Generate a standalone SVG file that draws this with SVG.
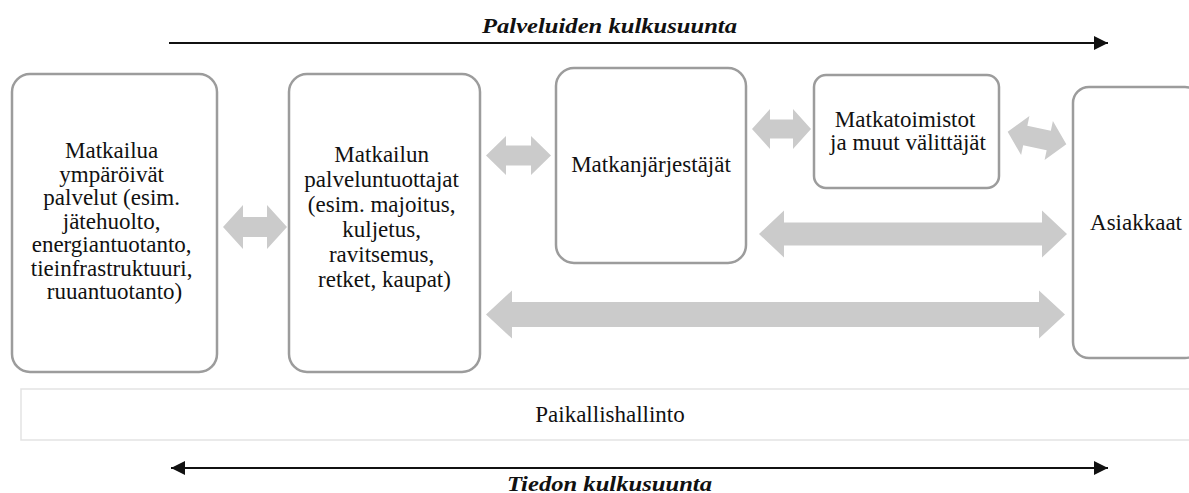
<svg xmlns="http://www.w3.org/2000/svg" width="1189" height="493" viewBox="0 0 1189 493">
<style>
.box{fill:#fff;stroke:#9c9c9c;stroke-width:2.5}
.gov{fill:#fff;stroke:#e3e3e3;stroke-width:1.5}
.t{font-size:23px;fill:#111;text-anchor:middle}
.h{font-size:20.5px;font-weight:bold;font-style:italic;fill:#111;text-anchor:middle}
.ga{fill:#cbcbcb}
.bl{stroke:#111;stroke-width:2;fill:none}
</style>
<defs>
<marker id="ah" viewBox="0 0 10 10" refX="10" refY="5" markerWidth="7" markerHeight="7" orient="auto-start-reverse" markerUnits="strokeWidth">
<path d="M0 0 L10 5 L0 10 Z" fill="#111"/>
</marker>
</defs>
<rect width="1189" height="493" fill="#fff"/>
<g id="flow-top">
<text class="h" font-family="Liberation Serif" x="609.5" y="33" textLength="255" lengthAdjust="spacingAndGlyphs">Palveluiden kulkusuunta</text>
<line class="bl" x1="169" y1="43" x2="1108" y2="43" marker-end="url(#ah)"/>
</g>
<g id="flow-bottom">
<line class="bl" x1="171" y1="468" x2="1108" y2="468" marker-start="url(#ah)" marker-end="url(#ah)"/>
<text class="h" font-family="Liberation Serif" x="609.5" y="491" textLength="205" lengthAdjust="spacingAndGlyphs">Tiedon kulkusuunta</text>
</g>
<g id="paikallishallinto">
<rect class="gov" x="21" y="389" width="1180" height="51"/>
<text class="t" font-family="Liberation Serif" x="610" y="422">Paikallishallinto</text>
</g>
<g id="connectors">
<path class="ga" d="M223 227 L243 205 L243 217 L267 217 L267 205 L287 227 L267 249 L267 237 L243 237 L243 249 Z"/>
<path class="ga" d="M486 155.5 L506 136 L506 145.5 L531 145.5 L531 136 L551 155.5 L531 175 L531 165.5 L506 165.5 L506 175 Z"/>
<path class="ga" d="M752 129 L770 109 L770 119.5 L793 119.5 L793 109 L811 129 L793 149 L793 138.5 L770 138.5 L770 149 Z"/>
<path class="ga" transform="translate(1037 138) rotate(12)" d="M-30 0 L-12 -20 L-12 -10 L12 -10 L12 -20 L30 0 L12 20 L12 10 L-12 10 L-12 20 Z"/>
<path class="ga" d="M759 234 L784 210.5 L784 222.5 L1042 222.5 L1042 210.5 L1067 234 L1042 257.5 L1042 245.5 L784 245.5 L784 257.5 Z"/>
<path class="ga" d="M486 314.5 L512 290.5 L512 302 L1039 302 L1039 290.5 L1065 314.5 L1039 338.5 L1039 327 L512 327 L512 338.5 Z"/>
</g>
<g id="ymparoivat">
<rect class="box" x="12" y="74" width="205" height="298" rx="18"/>
<text class="t" font-family="Liberation Serif">
<tspan x="114.5" y="158">Matkailua</tspan>
<tspan x="114.5" y="181.5">ympäröivät</tspan>
<tspan x="114.5" y="205">palvelut (esim.</tspan>
<tspan x="114.5" y="228.5">jätehuolto,</tspan>
<tspan x="114.5" y="252">energiantuotanto,</tspan>
<tspan x="114.5" y="275.5">tieinfrastruktuuri,</tspan>
<tspan x="114.5" y="299">ruuantuotanto)</tspan>
</text>
</g>
<g id="palveluntuottajat">
<rect class="box" x="289" y="74" width="191" height="298" rx="18"/>
<text class="t" font-family="Liberation Serif">
<tspan x="384.5" y="162">Matkailun</tspan>
<tspan x="384.5" y="187">palveluntuottajat</tspan>
<tspan x="384.5" y="212">(esim. majoitus,</tspan>
<tspan x="384.5" y="237">kuljetus,</tspan>
<tspan x="384.5" y="262">ravitsemus,</tspan>
<tspan x="384.5" y="287">retket, kaupat)</tspan>
</text>
</g>
<g id="matkanjarjestajat">
<rect class="box" x="556" y="68" width="190" height="195" rx="18"/>
<text class="t" font-family="Liberation Serif" x="651" y="172">Matkanjärjestäjät</text>
</g>
<g id="matkatoimistot">
<rect class="box" x="814" y="75" width="185" height="113" rx="12"/>
<text class="t" font-family="Liberation Serif">
<tspan x="908" y="127">Matkatoimistot</tspan>
<tspan x="908" y="150">ja muut välittäjät</tspan>
</text>
</g>
<g id="asiakkaat">
<rect class="box" x="1073" y="87" width="128" height="271" rx="16"/>
<text class="t" font-family="Liberation Serif" x="1136" y="230">Asiakkaat</text>
</g>
</svg>
